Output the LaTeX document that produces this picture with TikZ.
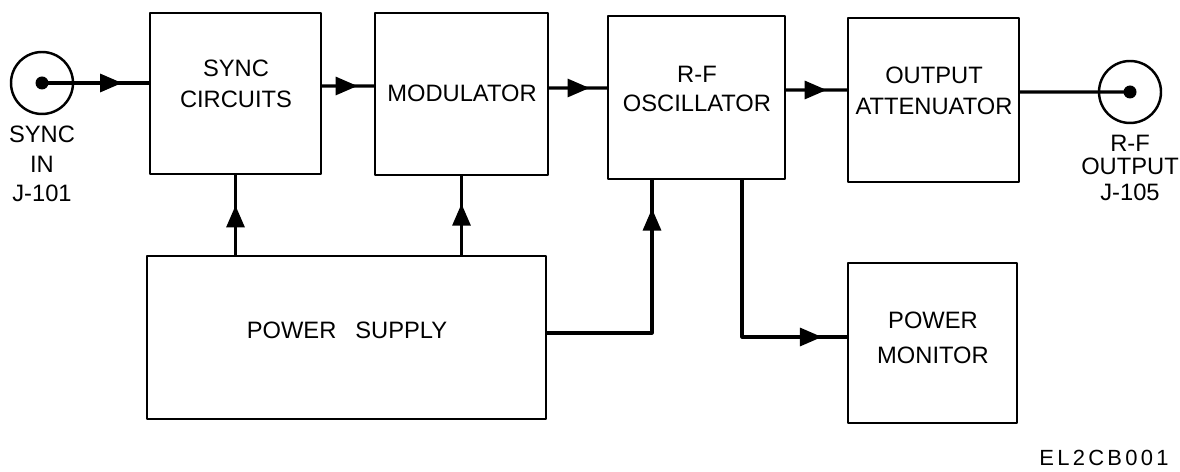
\documentclass[tikz,border=0pt]{standalone}
\usepackage{fontspec}
\setmainfont{Liberation Sans}
\usetikzlibrary{arrows.meta,decorations.markings}

\tikzset{
	blk/.style={draw,line width=1.4pt,inner sep=0pt},
	lbl/.style={align=center,font=\fontsize{13.5}{18}\selectfont},
	jack/.style={draw,circle,line width=1.4pt,minimum size=1.24cm,inner sep=0pt},
	jackdot/.style={fill,circle,minimum size=0.26cm,inner sep=0pt},
	wire/.style={line width=1.8pt},
	flow/.style={wire,postaction={decorate},
		decoration={markings,mark=at position #1 with {\arrow{Triangle[length=0.44cm,width=0.36cm]}}}}
}

\begin{document}
\begin{tikzpicture}[line cap=round,line join=round,x=0.02cm,y=-0.02cm]
		\useasboundingbox (0,0) rectangle (1180,472);
		% blocks
		\node[blk,minimum width=3.42cm,minimum height=3.22cm] (sync) at (235.5,93.5) {};
		\node[blk,minimum width=3.46cm,minimum height=3.24cm] (mod) at (461.5,94) {};
		\node[blk,minimum width=3.54cm,minimum height=3.26cm] (osc) at (696.5,97.5) {};
		\node[blk,minimum width=3.42cm,minimum height=3.28cm] (att) at (933.5,100) {};
		\node[blk,minimum width=7.98cm,minimum height=3.26cm] (ps) at (346.5,337.5) {};
		\node[blk,minimum width=3.38cm,minimum height=3.2cm] (mon) at (932.5,343) {};
		% block texts
		\node[lbl] (synctext) at (236,84) {SYNC\\CIRCUITS};
		\node[lbl] (modtext) at (462,93) {MODULATOR};
		\node[lbl,font=\fontsize{13.5}{16}\selectfont] (osctext) at (697,89) {R-F\\OSCILLATOR};
		\node[lbl] (atttext) at (934,91) {OUTPUT\\ATTENUATOR};
		\node[lbl] (pstext) at (347,330) {POWER\hspace{0.8em}SUPPLY};
		\node[lbl,font=\fontsize{13.5}{20}\selectfont] (montext) at (933,338) {POWER\\MONITOR};
		% jacks
		\node[jack] (jin) at (42,83) {};
		\node[jack] (jout) at (1130,92) {};
		\node[lbl,font=\fontsize{13.5}{16.7}\selectfont] (jinlabel) at (42,164) {SYNC\\IN\\J-101};
		\node[lbl,font=\fontsize{13.5}{13}\selectfont] (joutlabel) at (1130,168) {R-F\\OUTPUT\\[2.3pt]J-105};
		% signal path
		\draw[flow=0.75] (jin.center) -- (jin.center -| sync.west);
		\draw[flow=0.685] ([yshift=0.15cm]sync.east) -- ([yshift=0.16cm]mod.west);
		\draw[flow=0.7] ([yshift=0.12cm]mod.east) -- ([yshift=0.19cm]osc.west);
		\draw[flow=0.667] ([yshift=0.15cm]osc.east) -- ([yshift=0.2cm]att.west);
		\draw[wire] ([yshift=0.16cm]att.east) -- (jout.center);
		% power and monitor
		\draw[flow=0.62] (sync.south |- ps.north) -- (sync.south);
		\draw[flow=0.65] (mod.south |- ps.north) -- (mod.south);
		\draw[flow=0.89] ([yshift=0.09cm]ps.east) -| ([xshift=-0.89cm]osc.south);
		\draw[flow=0.905] ([xshift=0.91cm]osc.south) |- ([yshift=0.12cm]mon.west);
		\node[jackdot] (jindot) at (jin) {};
		\node[jackdot] (joutdot) at (jout) {};
		\node[font=\fontsize{12.5}{15}\selectfont\addfontfeatures{LetterSpace=15}] (figid) at (1104,458) {EL2CB001};
	\end{tikzpicture}
\end{document}
